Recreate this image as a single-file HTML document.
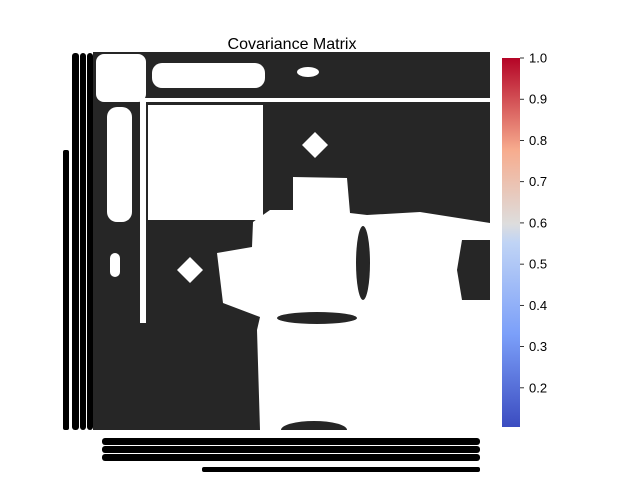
<!DOCTYPE html>
<html><head><meta charset="utf-8"><style>
html,body{margin:0;padding:0;background:#fff;}
svg{display:block;font-family:"Liberation Sans","DejaVu Sans",sans-serif;}
</style></head><body>
<svg id="chart" width="640" height="480" viewBox="0 0 640 480">
<defs>
<linearGradient id="cw" x1="0" y1="1" x2="0" y2="0">
<stop offset="0" stop-color="#3b4cc0"/><stop offset="0.25" stop-color="#7b9ff9"/>
<stop offset="0.5" stop-color="#c0d4f5"/><stop offset="0.55" stop-color="#dddddd"/>
<stop offset="0.75" stop-color="#f7ac8e"/><stop offset="1" stop-color="#b40426"/>
</linearGradient>
</defs>
<text x="292" y="49" font-size="16" text-anchor="middle" fill="#000">Covariance Matrix</text>
<g>
<rect x="93" y="52" width="397" height="378" fill="#262626"/>
<g fill="#fff">
<rect x="96" y="54" width="50" height="48" rx="8"/>
<rect x="152" y="63" width="113" height="25" rx="10"/>
<ellipse cx="308" cy="72" rx="11" ry="5"/>
<rect x="140" y="98" width="350" height="4"/>
<rect x="107" y="107" width="25" height="115" rx="10"/>
<rect x="140" y="100" width="6" height="223"/>
<rect x="148" y="105" width="115" height="115"/>
<polygon points="315,132 328,145 315,158 302,145"/>
<polygon points="190,257 203,270 190,283 177,270"/>
<rect x="110" y="253" width="10" height="24" rx="5"/>
<polygon points="293,177 347,178 350,213 367,215 420,212 490,223 490,430 260,430 257,330 260,317 223,303 217,253 252,247 253,222 270,210 293,210"/>
</g>
<g fill="#262626">
<ellipse cx="317" cy="318" rx="40" ry="6"/>
<ellipse cx="363" cy="263" rx="7" ry="37"/>
<polygon points="462,240 490,240 490,300 462,300 457,270"/>
<ellipse cx="314" cy="430" rx="33" ry="9"/>
</g>
<rect x="93" y="430" width="397" height="10" fill="#fff"/>
</g>
<g fill="#000">
<rect x="72" y="53" width="7" height="377" rx="3"/>
<rect x="80" y="53" width="6" height="377" rx="3"/>
<rect x="87" y="53" width="6" height="377" rx="3"/>
<rect x="63" y="150" width="6" height="280" rx="2"/>
</g>
<g fill="#000">
<rect x="102" y="438" width="378" height="7" rx="3"/>
<rect x="102" y="446" width="378" height="7" rx="3"/>
<rect x="102" y="454" width="378" height="7" rx="3"/>
<rect x="202" y="467" width="278" height="5" rx="2"/>
</g>
<g id="cbar"></g>
</svg>
<script>
const cbarTicks = [0.2, 0.3, 0.4, 0.5, 0.6, 0.7, 0.8, 0.9, 1.0];
const cbarLabels = ["0.2","0.3","0.4","0.5","0.6","0.7","0.8","0.9","1.0"];
const cbarRange = [0.105, 1.0];
const NS = "http://www.w3.org/2000/svg";
const cbG = document.getElementById('cbar');
const cbTop = 58, cbBot = 427, cbX = 502, cbW = 18;
function yScale(v){ return cbBot - (v - cbarRange[0]) / (cbarRange[1] - cbarRange[0]) * (cbBot - cbTop); }
const r = document.createElementNS(NS,'rect');
r.setAttribute('x',cbX); r.setAttribute('y',yScale(cbarRange[1])); r.setAttribute('width',cbW);
r.setAttribute('height',yScale(cbarRange[0]) - yScale(cbarRange[1])); r.setAttribute('fill','url(#cw)');


cbG.appendChild(r);
cbarTicks.forEach((t,i)=>{
  const y = yScale(t);
  const l = document.createElementNS(NS,'line');
  l.setAttribute('x1',cbX+cbW); l.setAttribute('x2',cbX+cbW+4); l.setAttribute('y1',y); l.setAttribute('y2',y);
  l.setAttribute('stroke','#000'); l.setAttribute('stroke-width','0.8');
  
  
  cbG.appendChild(l);
  const tx = document.createElementNS(NS,'text');
  tx.setAttribute('x',cbX+cbW+9); tx.setAttribute('y',y+4.5); tx.setAttribute('font-size','13');
  tx.textContent = cbarLabels[i];
  
  
  cbG.appendChild(tx);
});
</script>
</body></html>
